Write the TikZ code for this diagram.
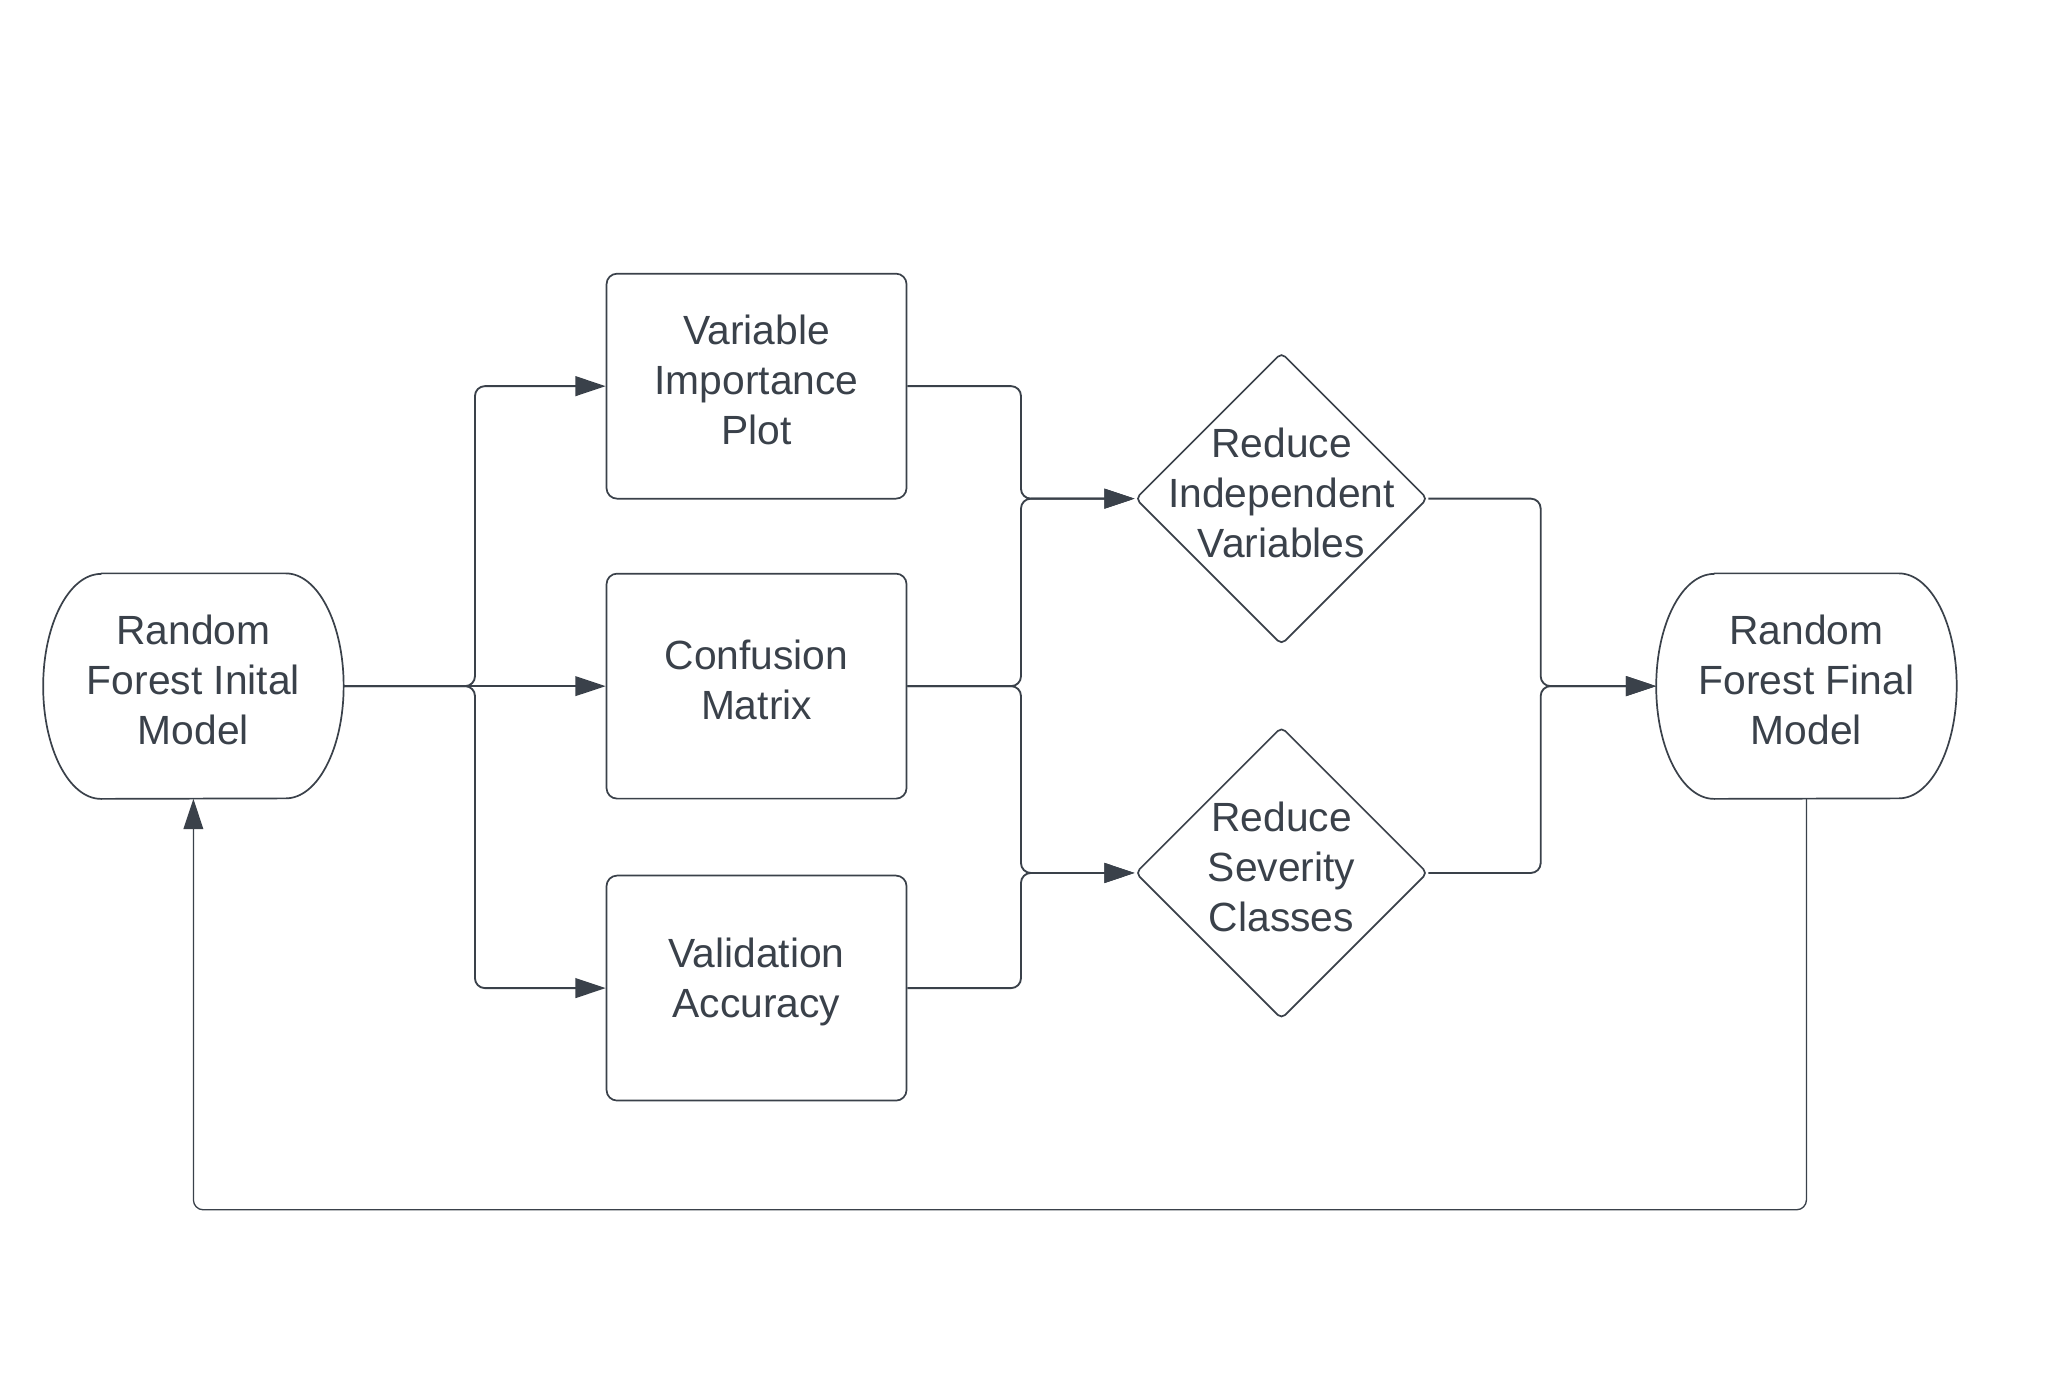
\documentclass[tikz,border=0pt]{standalone}
\usepackage{fontspec}
\setmainfont{Liberation Sans}
\usetikzlibrary{shapes.geometric,arrows.meta}
\definecolor{ink}{HTML}{3A414A}
\newcommand\termoutline[1]{%
  \draw[outline] ([xshift=44pt]#1.north west) -- ([xshift=-44pt]#1.north east)
    arc[start angle=90,end angle=-90,x radius=44pt,y radius=85.5pt]
    -- ([xshift=44pt]#1.south west)
    arc[start angle=270,end angle=90,x radius=44pt,y radius=85.5pt] -- cycle;}
\begin{document}
\begin{tikzpicture}[x=1pt,y=-1pt,
  every node/.style={font=\fontsize{31}{38}\selectfont, text=ink, align=center},
  txt/.style={label={[yshift=4.5pt]center:#1}},
  boxnode/.style={draw=ink, line width=1.3pt, rectangle, rounded corners=8pt,
    minimum width=228pt, minimum height=171pt, inner sep=0pt},
  termnode/.style={minimum width=228pt, minimum height=171pt, inner sep=0pt},
  decnode/.style={draw=ink, line width=1.3pt, diamond, minimum width=222pt,
    minimum height=222pt, inner sep=0pt, rounded corners=4pt},
  outline/.style={draw=ink, line width=1.3pt, line join=round},
  conn/.style={draw=ink, line width=1.4pt, rounded corners=7.5pt,
    -{Triangle[length=23pt,width=15pt]}},
  thinconn/.style={conn, line width=1pt},
]
\useasboundingbox (0,0) rectangle (1568,1057);

% shapes
\node[termnode, txt={Random\\Forest Inital\\Model}] (init) at (147,521.5) {};
\termoutline{init}
\node[boxnode, txt={Variable\\Importance\\Plot}] (vip) at (575,293.5) {};
\node[boxnode, txt={Confusion\\Matrix}] (cm) at (575,521.5) {};
\node[boxnode, txt={Validation\\Accuracy}] (va) at (575,751) {};
\node[decnode, txt={Reduce\\Independent\\Variables}] (riv) at (974,379) {};
\node[decnode, txt={Reduce\\Severity\\Classes}] (rsc) at (974,663.5) {};
\node[termnode, txt={Random\\Forest Final\\Model}] (final) at (1373,521.5) {};
\termoutline{final}

% junction coordinates
\coordinate (j1) at (361,521.5);
\coordinate (j2) at (776,521.5);
\coordinate (j3) at (1171,521.5);
\coordinate (loop) at (147,919.5);

% connectors
\draw[conn] (init.east) -- (j1) |- (vip.west);
\draw[thinconn] (init.east) -- (cm.west);
\draw[conn] (init.east) -- (j1) |- (va.west);

\draw[conn] (vip.east) -- (vip.east -| j2) |- (riv.west);
\draw[conn] (cm.east) -- (j2) |- (riv.west);
\draw[conn] (cm.east) -- (j2) |- (rsc.west);
\draw[conn] (va.east) -- (va.east -| j2) |- (rsc.west);

\draw[conn] (riv.east) -- (riv.east -| j3) |- (final.west);
\draw[conn] (rsc.east) -- (rsc.east -| j3) |- (final.west);

\draw[thinconn] (final.south) |- (loop) -- (init.south);
\end{tikzpicture}
\end{document}
